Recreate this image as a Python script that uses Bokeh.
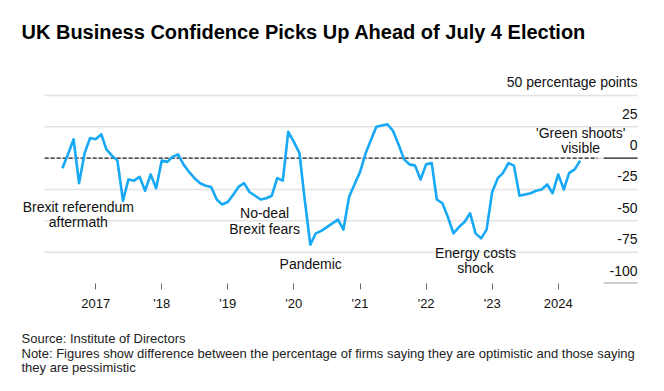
import pandas as pd
from bokeh.plotting import figure
from bokeh.models import Label, FixedTicker, Range1d, ColumnDataSource, Title
from bokeh.embed import file_html
from bokeh.resources import INLINE

# ---------------- data ----------------
conf_2016 = [-8, 3, 15, -20, 4, 16]                                   # Jul-Dec
conf_2017 = [15, 19, 7, 2, -2, -34, -17, -18, -15, -26, -13, -24]
conf_2018 = [-2, -3, 1, 3, -5, -11, -16, -20, -22, -23, -33, -37]
conf_2019 = [-35, -29, -23, -20, -27, -30, -33, -32, -30, -16, -18, 21]
conf_2020 = [13, 4, -33, -69, -60, -58, -55, -52, -49, -57, -31, -21]
conf_2021 = [-11, 4, 14, 25, 26, 27, 22, 11, -1, -5, -6, -17]
conf_2022 = [-5, -4, -33, -36, -47, -60, -55, -51, -44, -60, -64, -57]
conf_2023 = [-27, -16, -12, -4, -6, -30, -29, -28, -26, -25, -21, -28]
conf_2024 = [-13, -25, -12, -9, -2]                                   # Jan-May

first_month = "2016-07-01"
last_month = "2024-05-01"

year_ticks = ["2017", "2018", "2019", "2020", "2021", "2022", "2023", "2024"]
year_tick_labels = ["2017", "'18", "'19", "'20", "'21", "'22", "'23", "2024"]

y_tick_values = [50, 25, 0, -25, -50, -75, -100]
y_tick_labels = ["50 percentage points", "25", "0", "-25", "-50", "-75", "-100"]
grid_values = [50, 25, 0, -25, -50, -75]

annotations = [
    ("Brexit referendum", "2016-09-27", -39.1),
    ("aftermath", "2016-09-27", -51.3),
    ("No-deal", "2019-07-23", -44.1),
    ("Brexit fears", "2019-07-23", -56.9),
    ("Pandemic", "2020-04-03", -84.8),
    ("Energy costs", "2022-10-01", -75.8),
    ("shock", "2022-10-01", -87.4),
    ("'Green shoots'", "2024-05-04", 20.3),
    ("visible", "2024-05-04", 8.3),
]

title_text = "UK Business Confidence Picks Up Ahead of July 4 Election"
footer_lines = [
    "Source: Institute of Directors",
    "Note: Figures show difference between the percentage of firms saying they are optimistic and those saying",
    "they are pessimistic",
]

# ---------------- layout / style ----------------
VIEW_START, VIEW_END = "2015-07-25", "2025-06-27"
GRID_START, GRID_END = "2016-03-25", "2025-03-14"
ZERO_DASH_END = "2024-08-05"
LABEL_COL_START = "2024-09-08"
Y_TOP = 125.7
FONT = "Liberation Sans"
BLUE = "#17A9F5"


def ms(d):
    return pd.Timestamp(d).value / 1e6


values = conf_2016 + conf_2017 + conf_2018 + conf_2019 + conf_2020 + conf_2021 + conf_2022 + conf_2023 + conf_2024
months = pd.date_range(first_month, last_month, freq="MS")
src = ColumnDataSource(dict(date=months, value=values))

p = figure(
    x_axis_type="datetime", y_axis_location=None,
    x_range=Range1d(ms(VIEW_START), ms(VIEW_END)), y_range=Range1d(-100, Y_TOP),
    frame_width=656, frame_height=283,
    min_border_left=0, min_border_right=0, min_border_top=0, min_border_bottom=100,
    output_backend="svg", toolbar_location=None,
    background_fill_color="white", border_fill_color="white",
)
p.outline_line_color = None
p.grid.visible = False

ax = p.xaxis[0]
tick_ms = [ms(y + "-01-01") for y in year_ticks]
ax.ticker = FixedTicker(ticks=tick_ms, minor_ticks=[])
ax.major_label_overrides = {t: lab for t, lab in zip(tick_ms, year_tick_labels)}
ax.axis_line_color = None
ax.major_tick_in = 0
ax.major_tick_out = 6
ax.major_tick_line_color = "#666666"
ax.minor_tick_line_color = None
ax.major_label_standoff = 6
ax.major_label_text_font = FONT
ax.major_label_text_font_size = "13px"
ax.major_label_text_color = "#111111"

# horizontal gridlines
n = len(grid_values)
p.segment(x0=[ms(GRID_START)] * n, y0=grid_values, x1=[ms(GRID_END)] * n, y1=grid_values,
          line_color="#e3e3e3", line_width=1.5)
# zero line: dashed across chart, solid under the label column
p.segment(x0=[ms(GRID_START)], y0=[0], x1=[ms(ZERO_DASH_END)], y1=[0],
          line_color="#222222", line_width=1.3, line_dash="4 2")
p.segment(x0=[ms(LABEL_COL_START)], y0=[0], x1=[ms(GRID_END)], y1=[0],
          line_color="#222222", line_width=1.3)
p.segment(x0=[ms(LABEL_COL_START)], y0=[-100], x1=[ms(GRID_END)], y1=[-100],
          line_color="#999999", line_width=2)

p.line("date", "value", source=src, line_color=BLUE, line_width=2.6, line_join="round")

for v, lab in zip(y_tick_values, y_tick_labels):
    p.add_layout(Label(x=ms(GRID_END), y=v, text=lab, text_align="right", text_baseline="middle",
                       y_offset=13, text_font=FONT, text_font_size="14px", text_color="#111111"))

for text, d, v in annotations:
    p.add_layout(Label(x=ms(d), y=v, text=text, text_align="center", text_baseline="middle",
                       text_font=FONT, text_font_size="14px", text_color="#111111"))

p.add_layout(Label(x=21, y=252, x_units="screen", y_units="screen", text=title_text,
                   text_align="left", text_baseline="alphabetic", text_font=FONT,
                   text_font_size="20px", text_font_style="bold", text_color="#000000"))

p.add_layout(Title(text="\n".join(footer_lines), align="left", offset=21, standoff=32,
                   text_font=FONT, text_font_size="13px", text_font_style="normal",
                   text_line_height=0.97, text_color="#222222"), "below")

open("out.html", "w").write(file_html(p, INLINE))
